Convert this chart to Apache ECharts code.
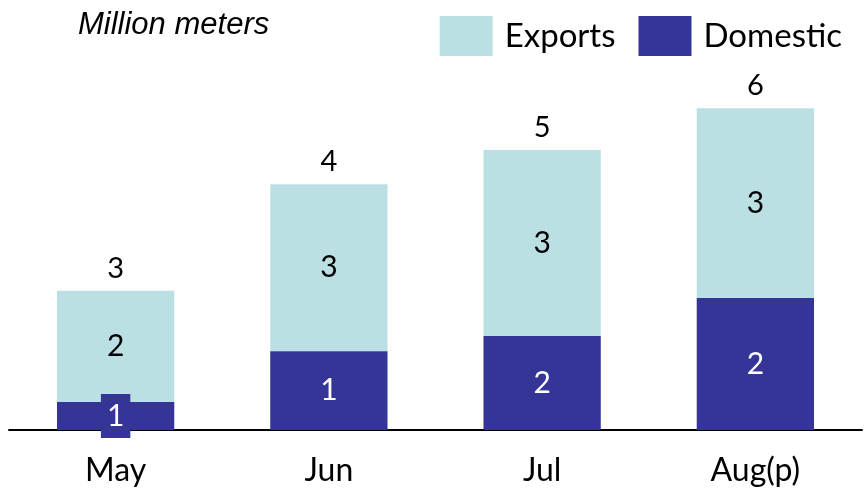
<!DOCTYPE html>
<html>
<head>
<meta charset="utf-8">
<script src="https://cdn.jsdelivr.net/npm/echarts@6/dist/echarts.min.js"></script>
<style>
  html, body { margin: 0; padding: 0; background: #fff; }
  #chart { width: 864px; height: 497px; }
</style>
</head>
<body>
<div id="chart"></div>
<script>
const categories = ['May', 'Jun', 'Jul', 'Aug(p)']
const domestic = [0.51, 1.43, 1.71, 2.40]
const exports = [2.02, 3.04, 3.38, 3.45]
const totals = domestic.map((d, i) => d + exports[i])

const chart = echarts.init(document.getElementById('chart'))
const font = 'Lato, "Open Sans", sans-serif'
const darkBlue = '#353598'
const lightCyan = '#bbe0e3'

const option = {
  animation: false,
  title: {
    text: 'Million meters',
    left: 73,
    top: 5,
    textStyle: {
      fontFamily: '"Liberation Sans", Arial, sans-serif',
      fontStyle: 'italic',
      fontWeight: 'normal',
      fontSize: 31,
      color: '#000'
    }
  },
  legend: {
    data: ['Exports', 'Domestic'],
    right: 17,
    top: 11,
    itemWidth: 53,
    itemHeight: 40,
    itemGap: 23,
    icon: 'rect',
    textStyle: { fontFamily: font, fontSize: 33, color: '#000', padding: [0, 0, 0, 7] }
  },
  grid: { left: 9, right: 2, top: 67, bottom: 67 },
  xAxis: {
    type: 'category',
    data: categories,
    axisLine: { lineStyle: { color: '#000', width: 2 } },
    axisTick: { show: false },
    axisLabel: { fontFamily: font, fontSize: 32, color: '#000', margin: 25 }
  },
  yAxis: { type: 'value', min: 0, max: 6.6, show: false, splitLine: { show: false } },
  series: [
    {
      name: 'Domestic',
      type: 'bar',
      stack: 'total',
      barWidth: '55%',
      itemStyle: { color: darkBlue },
      data: domestic.map((v, i) => i === 0 ? {
        value: v,
        label: { backgroundColor: darkBlue, padding: [6, 6], lineHeight: 32 }
      } : v),
      label: {
        show: true,
        position: 'inside',
        fontFamily: font,
        fontSize: 30,
        color: '#fff',
        formatter: p => Math.round(p.value)
      },
      z: 3
    },
    {
      name: 'Exports',
      type: 'bar',
      stack: 'total',
      itemStyle: { color: lightCyan },
      data: exports,
      label: {
        show: true,
        position: 'inside',
        fontFamily: font,
        fontSize: 30,
        color: '#000',
        formatter: p => Math.round(p.value)
      }
    },
    {
      name: 'Total',
      type: 'bar',
      stack: 'total',
      data: totals.map(() => 0),
      itemStyle: { color: 'transparent' },
      label: {
        show: true,
        position: 'top',
        distance: 8,
        fontFamily: font,
        fontSize: 29,
        color: '#000',
        formatter: p => Math.round(totals[p.dataIndex])
      }
    }
  ]
}

chart.setOption(option)
window.addEventListener('resize', () => chart.resize())
</script>
</body>
</html>
